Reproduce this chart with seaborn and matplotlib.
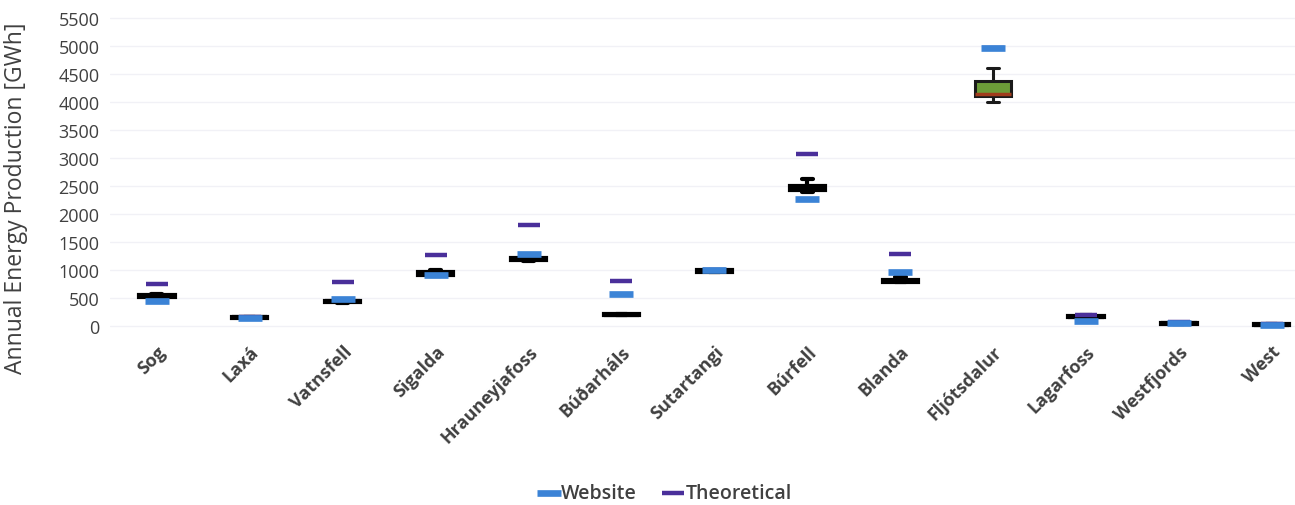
import numpy as np
import pandas as pd
import matplotlib
matplotlib.use("Agg")
import matplotlib.pyplot as plt
import seaborn as sns

# Станции
stations = ["Sog", "Laxá", "Vatnsfell", "Sigalda", "Hrauneyjafoss", "Búðarháls",
            "Sutartangi", "Búrfell", "Blanda", "Fljótsdalur", "Lagarfoss",
            "Westfjords", "West"]

# Пять значений на станцию: нижний ус, Q1, медиана, Q3, верхний ус [GWh]
sog = [500, 520, 540, 560, 580]
laxa = [140, 148, 155, 162, 170]
vatnsfell = [420, 430, 440, 455, 465]
sigalda = [900, 920, 940, 960, 1010]
hrauneyjafoss = [1160, 1180, 1200, 1220, 1240]
budarhals = [190, 195, 200, 210, 225]
sutartangi = [960, 970, 985, 995, 1010]
burfell = [2400, 2430, 2460, 2500, 2620]
blanda = [780, 790, 800, 820, 870]
fljotsdalur = [4000, 4100, 4150, 4380, 4600]
lagarfoss = [140, 155, 165, 175, 190]
westfjords = [40, 45, 50, 55, 60]
west = [15, 20, 25, 30, 35]

website = [450, 150, 490, 910, 1280, 570, 1000, 2270, 970, 4960, 100, 55, 25]
theoretical = [750, 165, 780, 1270, 1800, 800, 1010, 3080, 1280, 4960, 190, 65, 40]

yticks = list(range(0, 5501, 500))

# Таблица для boxplot
samples = [sog, laxa, vatnsfell, sigalda, hrauneyjafoss, budarhals, sutartangi,
           burfell, blanda, fljotsdalur, lagarfoss, westfjords, west]
data = pd.DataFrame(
    [(s, v) for s, vals in zip(stations, samples) for v in vals],
    columns=["station", "gwh"],
)

sns.set_style("white")
plt.rcParams["font.family"] = ["Open Sans", "DejaVu Sans"]

fig = plt.figure(figsize=(12.95, 5.06), dpi=100)
ax = fig.add_axes([0.0853, 0.338, 0.9147, 0.642])

for y in yticks:
    ax.axhline(y, color="#f1f1f6", lw=1, zorder=0)

box_kw = dict(width=0.38, whis=10, capwidths=0.12, showfliers=False)

# Чёрные ящики
sns.boxplot(data=data[data["station"] != "Fljótsdalur"], x="station", y="gwh",
            order=stations, color="black", linecolor="black", linewidth=3,
            medianprops=dict(color="black"), ax=ax, **box_kw)
# Fljótsdalur — зелёный
sns.boxplot(data=data[data["station"] == "Fljótsdalur"], x="station", y="gwh",
            order=stations, color="#6c9c38", saturation=1, linecolor="#1a1a1a",
            linewidth=2.2, medianprops=dict(color="#a03c1c", linewidth=2.5),
            ax=ax, **box_kw)

pos = np.arange(len(stations))
sns.scatterplot(x=pos, y=theoretical, marker="_", s=230, linewidth=3.2,
                color="#4a2f9a", label="Theoretical", ax=ax, zorder=4)
sns.scatterplot(x=pos, y=website, marker="_", s=280, linewidth=4.8,
                color="#3b83d6", label="Website", ax=ax, zorder=5)

ax.set_xlim(-0.5, 12.25)
ax.set_ylim(-140, 5660)
ax.set_yticks(yticks)
ax.set_yticklabels([str(t) for t in yticks], fontsize=13, color="#404040")
ax.set_xticks(pos)
ax.set_xticklabels(stations, rotation=45, ha="right", rotation_mode="anchor",
                   fontsize=13, fontweight="bold", color="#404040")
ax.tick_params(axis="x", length=0, pad=6)
ax.tick_params(axis="y", length=0, pad=8)
ax.set_xlabel("")
ax.set_ylabel("Annual Energy Production [GWh]", fontsize=16.5, color="#404040")
ax.yaxis.set_label_coords(-0.07, 0.42)
for sp in ax.spines.values():
    sp.set_visible(False)

handles, labels = ax.get_legend_handles_labels()
order = [labels.index("Website"), labels.index("Theoretical")]
ax.legend_.remove()
fig.legend([handles[i] for i in order], [labels[i] for i in order],
           loc="lower center", bbox_to_anchor=(0.515, -0.03), ncol=2,
           frameon=False, prop=dict(size=14, weight="semibold"),
           handlelength=0.7, columnspacing=1.5, handletextpad=0.3,
           labelcolor="#404040")

fig.savefig("out.png", dpi=100)
